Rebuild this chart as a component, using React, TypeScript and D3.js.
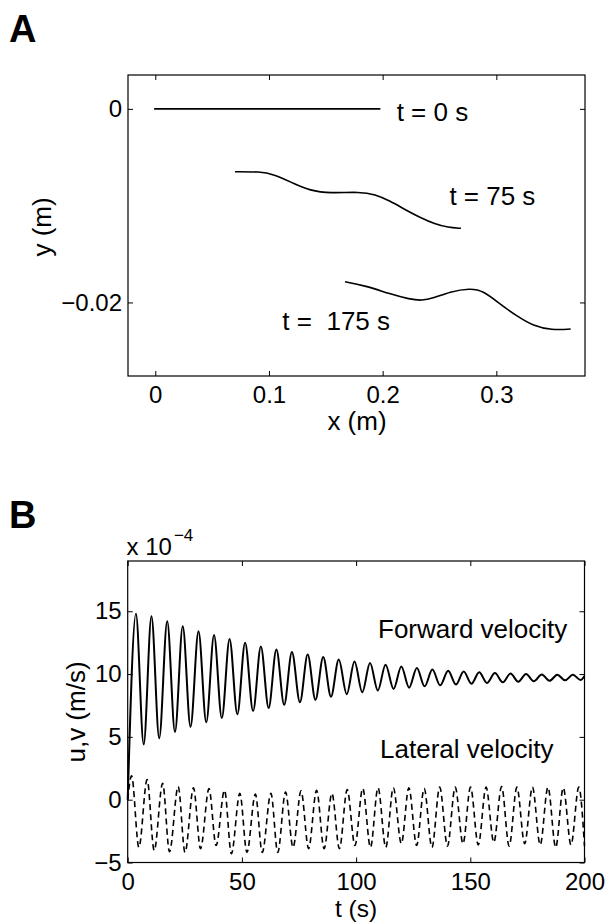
import { useEffect, useRef } from "react";
import * as d3 from "d3";

// ---- panel A : body position at three times (x, y in m)
const shape0X = [-0.001, 0.198];
const shape0Y = [0, 0];
const shape75X = [0.0701, 0.0921, 0.1038, 0.1214, 0.1361, 0.1537, 0.1801, 0.1933, 0.2065, 0.2197, 0.2328, 0.246, 0.2575, 0.2689];
const shape75Y = [-0.00649, -0.00649, -0.00673, -0.00769, -0.00845, -0.00872, -0.00856, -0.00884, -0.00952, -0.0104, -0.01122, -0.0119, -0.01226, -0.01234];
const shape175X = [0.1669, 0.186, 0.2065, 0.224, 0.2343, 0.2445, 0.2592, 0.2768, 0.2885, 0.3033, 0.3179, 0.3325, 0.3487, 0.3654];
const shape175Y = [-0.01786, -0.0183, -0.01913, -0.01967, -0.01982, -0.01957, -0.01889, -0.01854, -0.01878, -0.02017, -0.0214, -0.02243, -0.02285, -0.02275];
const shapeLabels = ["t = 0 s", "t = 75 s", "t =  175 s"];

const xTicksA = [0, 0.1, 0.2, 0.3];
const yTicksA = [0, -0.02];

// ---- panel B : velocities (x 1e-4 m/s), turning points of the curves
const fwdT = [0, 3.6, 7.0, 10.4, 13.8, 17.3, 20.7, 24.1, 27.5, 31.0, 34.4, 37.8, 41.2, 44.6, 48.0, 51.4, 54.9, 58.3, 61.7, 65.1, 68.5, 71.9, 75.4, 78.8, 82.2, 85.6, 89.0, 92.4, 95.9, 99.3, 102.7, 106.1, 109.5, 112.9, 116.4, 119.8, 123.2, 126.6, 130.0, 133.4, 136.8, 140.3, 143.7, 147.1, 150.5, 153.9, 157.3, 160.8, 164.2, 167.6, 171.0, 174.4, 177.8, 181.3, 184.7, 188.1, 191.5, 194.9, 198.3, 200];
const fwdV = [0, 14.8, 4.4, 14.6, 4.9, 14.2, 5.4, 13.8, 5.8, 13.4, 6.15, 13.1, 6.5, 12.8, 6.8, 12.5, 7.05, 12.2, 7.3, 11.95, 7.55, 11.75, 7.75, 11.55, 7.95, 11.35, 8.2, 11.15, 8.4, 11.0, 8.55, 10.88, 8.7, 10.74, 8.82, 10.6, 8.92, 10.48, 9.02, 10.36, 9.1, 10.26, 9.17, 10.2, 9.23, 10.14, 9.29, 10.08, 9.34, 10.04, 9.39, 10.0, 9.43, 9.97, 9.46, 9.95, 9.5, 9.94, 9.53, 9.85];

const latT = [0, 1.7, 4.9, 8.5, 11.6, 15.3, 18.3, 22.1, 25.1, 28.8, 31.9, 35.6, 38.7, 42.4, 45.4, 49.1, 52.2, 55.9, 58.9, 62.7, 65.7, 69.1, 72.4, 75.9, 79.2, 82.7, 86.0, 89.4, 92.7, 96.1, 99.5, 102.9, 106.3, 109.6, 113.0, 116.3, 119.8, 123.1, 126.5, 129.8, 133.2, 136.6, 140.0, 143.4, 146.8, 150.1, 153.5, 156.9, 160.3, 163.7, 167.0, 170.4, 173.8, 177.2, 180.6, 184.0, 187.4, 190.7, 194.1, 197.5, 200];
const latV = [0, 1.9, -3.8, 1.6, -4.05, 1.3, -4.15, 1.05, -4.2, 0.95, -3.9, 0.88, -3.65, 0.75, -4.3, 0.5, -4.2, 0.45, -4.2, 0.5, -4.2, 0.6, -3.8, 0.7, -3.9, 0.75, -3.9, 0.5, -3.9, 0.8, -3.65, 0.9, -3.8, 0.95, -3.8, 0.95, -3.5, 0.95, -3.65, 0.9, -3.8, 1.0, -3.7, 1.0, -3.5, 1.0, -3.6, 1.0, -3.4, 1.05, -3.7, 1.0, -3.5, 1.0, -3.6, 1.0, -3.8, 0.95, -3.6, 1.0, -3.7];
const velLabels = ["Forward velocity", "Lateral velocity"];

const xTicksB = [0, 50, 100, 150, 200];
const yTicksB = [-5, 0, 5, 10, 15];

const FONT = "'Liberation Sans', Arial, Helvetica, sans-serif";
const minus = (s: string) => s.replace("-", "\u2212");

const App = () => {
  const svgRef = useRef<SVGSVGElement>(null);

  useEffect(() => {
    const svg = d3.select(svgRef.current);
    svg.selectAll("*").remove();

    // draws the box with inward ticks on all four sides
    function frame(x: any, y: any, xt: number[], yt: number[], fx: (d: number) => string, fy: (d: number) => string) {
      const [x0, x1] = x.range();
      const [y0, y1] = y.range();
      const style = (g: any) => {
        g.select(".domain").remove();
        g.selectAll("line").attr("stroke", "#000");
        g.selectAll("text").attr("font-size", 24).attr("font-family", FONT).attr("fill", "#000");
        g.attr("font-family", null).attr("font-size", null);
      };
      svg.append("g").attr("transform", `translate(0,${y0})`)
        .call(d3.axisBottom(x).tickValues(xt).tickSize(-5).tickPadding(10).tickFormat(fx as any)).call(style);
      svg.append("g").attr("transform", `translate(0,${y1})`)
        .call(d3.axisTop(x).tickValues(xt).tickSize(-5).tickFormat(() => "")).call(style);
      svg.append("g").attr("transform", `translate(${x0},0)`)
        .call(d3.axisLeft(y).tickValues(yt).tickSize(-5).tickPadding(6).tickFormat(fy as any)).call(style);
      svg.append("g").attr("transform", `translate(${x1},0)`)
        .call(d3.axisRight(y).tickValues(yt).tickSize(-5).tickFormat(() => "")).call(style);
      svg.append("rect")
        .attr("x", x0).attr("y", y1)
        .attr("width", x1 - x0).attr("height", y0 - y1)
        .attr("fill", "none").attr("stroke", "#000").attr("stroke-width", 1.2);
    }

    const label = (x: number, y: number, txt: string, size: number, anchor = "start", rotate = false) => {
      const t = svg.append("text")
        .attr("font-family", FONT).attr("font-size", size)
        .attr("text-anchor", anchor).attr("fill", "#000")
        .style("white-space", "pre")
        .text(txt);
      if (rotate) t.attr("transform", `translate(${x},${y}) rotate(-90)`).attr("dy", "0.35em");
      else t.attr("x", x).attr("y", y);
      return t;
    };

    // ================= panel A
    const xA = d3.scaleLinear().domain([-0.024, 0.378]).range([128, 585]);
    const yA = d3.scaleLinear().domain([-0.0276, 0.0035]).range([376, 75]);

    frame(xA, yA, xTicksA, yTicksA, d => (d === 0 ? "0" : String(d)), d => minus(String(d)));

    const lineA = d3.line<[number, number]>()
      .x(d => xA(d[0])).y(d => yA(d[1]))
      .curve(d3.curveBasis);

    [[shape0X, shape0Y], [shape75X, shape75Y], [shape175X, shape175Y]].forEach(([xs, ys]) => {
      svg.append("path")
        .datum(xs.map((v, i) => [v, ys[i]] as [number, number]))
        .attr("fill", "none").attr("stroke", "#000").attr("stroke-width", 1.6)
        .attr("d", lineA);
    });

    label(xA(0.2123), yA(-0.00125), shapeLabels[0], 26);
    label(xA(0.2587), yA(-0.00993), shapeLabels[1], 26);
    label(xA(0.2065), yA(-0.02284), shapeLabels[2], 26, "end");

    label(357, 430, "x (m)", 26, "middle");
    label(42, 227, "y (m)", 26, "middle", true);
    svg.append("text").attr("x", 9).attr("y", 42)
      .attr("font-family", FONT).attr("font-weight", "bold").attr("font-size", 38).text("A");

    // ================= panel B
    const xB = d3.scaleLinear().domain([0, 200]).range([127.7, 584.5]);
    const yB = d3.scaleLinear().domain([-5, 19]).range([862.5, 561]);

    frame(xB, yB, xTicksB, yTicksB, d => String(d), d => minus(String(d)));

    const lineB = d3.line<[number, number]>()
      .x(d => xB(d[0])).y(d => yB(d[1]))
      .curve(d3.curveMonotoneX);

    svg.append("path")
      .datum(fwdT.map((t, i) => [t, fwdV[i]] as [number, number]))
      .attr("fill", "none").attr("stroke", "#000").attr("stroke-width", 2)
      .attr("d", lineB);

    svg.append("path")
      .datum(latT.map((t, i) => [t, latV[i]] as [number, number]))
      .attr("fill", "none").attr("stroke", "#000").attr("stroke-width", 1.6)
      .attr("stroke-dasharray", "6,4")
      .attr("d", lineB);

    label(xB(109.6), yB(12.87), velLabels[0], 26);
    label(xB(110.5), yB(3.29), velLabels[1], 26);

    const exp = label(126.5, 555, "x 10", 24);
    exp.append("tspan").attr("dx", 2).attr("dy", -14).attr("font-size", 17).text("\u22124");

    label(356, 917, "t (s)", 24.5, "middle");
    label(76, 712, "u,v (m/s)", 26, "middle", true);
    svg.append("text").attr("x", 9).attr("y", 528)
      .attr("font-family", FONT).attr("font-weight", "bold").attr("font-size", 38).text("B");
  }, []);

  return (
    <svg ref={svgRef} width={607} height={923}
      style={{ position: "absolute", left: 0, top: 0, background: "#fff" }} />
  );
};

export default App;
